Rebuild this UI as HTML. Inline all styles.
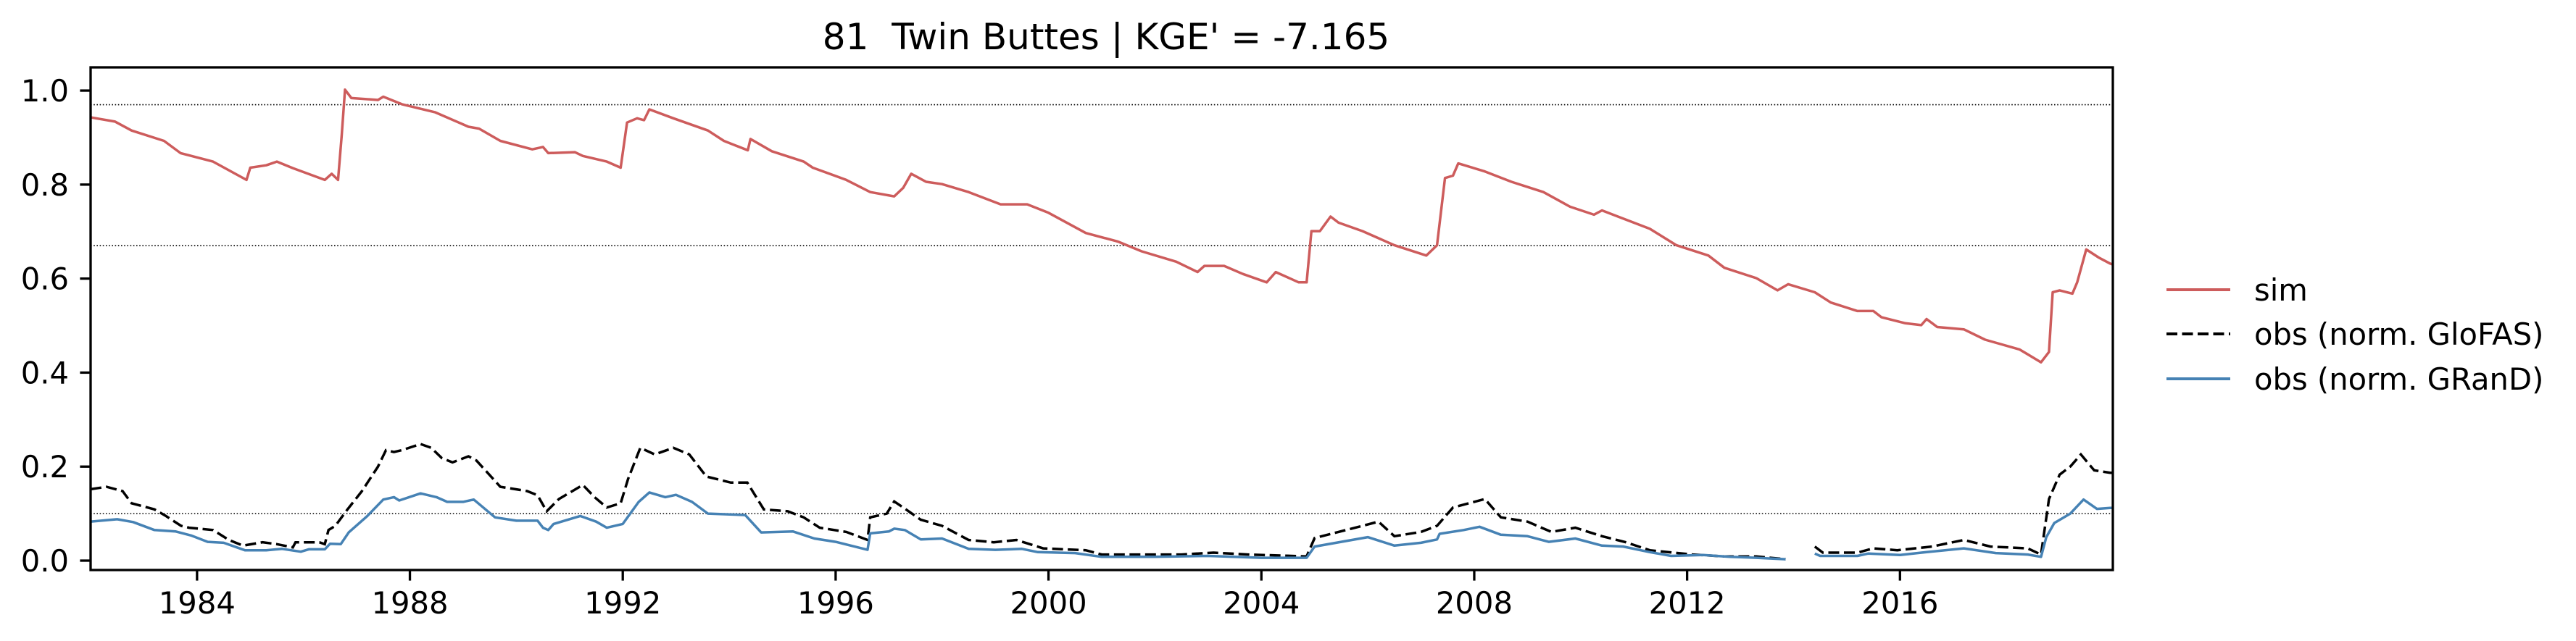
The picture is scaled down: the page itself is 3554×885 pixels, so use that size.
<!DOCTYPE html>
<html><head><meta charset="utf-8"><style>
html,body{margin:0;padding:0;background:#fff;}
svg{display:block;font-family:"DejaVu Sans","Liberation Sans",sans-serif;}
</style></head><body>
<svg id="chart" width="3554" height="885" viewBox="0 0 3554 885" xmlns="http://www.w3.org/2000/svg">
<rect width="3554" height="885" fill="#fff"/>
<text x="1526" y="68" font-size="50" text-anchor="middle">81&#160; Twin Buttes | KGE' = -7.165</text>
<g id="plot"></g>
<g id="legend">
  <line x1="2989" y1="400" x2="3077" y2="400" stroke="#cd5c5c" stroke-width="4"/>
  <text x="3110" y="415" font-size="41.7">sim</text>
  <line x1="2989" y1="461" x2="3077" y2="461" stroke="#000" stroke-width="4" stroke-dasharray="15,6.5"/>
  <text x="3110" y="476" font-size="41.7">obs (norm. GloFAS)</text>
  <line x1="2989" y1="523" x2="3077" y2="523" stroke="#4682b4" stroke-width="4"/>
  <text x="3110" y="538" font-size="41.7">obs (norm. GRanD)</text>
</g>
</svg>
<script>
const simYears=[1982.0,1982.46,1982.77,1983.38,1983.69,1984.3,1984.93,1985.0,1985.3,1985.5,1985.8,1986.4,1986.53,1986.65,1986.72,1986.78,1986.9,1987.4,1987.5,1987.85,1988.47,1989.1,1989.3,1989.7,1990.3,1990.5,1990.6,1991.1,1991.25,1991.7,1991.96,1992.08,1992.27,1992.4,1992.5,1992.95,1993.6,1993.9,1994.35,1994.4,1994.8,1995.4,1995.57,1996.2,1996.65,1997.1,1997.27,1997.42,1997.7,1998.0,1998.5,1999.1,1999.6,2000.0,2000.7,2001.3,2001.75,2002.4,2002.8,2002.93,2003.3,2003.65,2004.1,2004.27,2004.7,2004.85,2004.94,2005.1,2005.3,2005.45,2005.9,2006.5,2007.1,2007.3,2007.45,2007.6,2007.7,2008.2,2008.7,2009.3,2009.8,2010.25,2010.4,2010.7,2011.3,2011.8,2012.4,2012.7,2013.3,2013.7,2013.9,2014.4,2014.7,2015.2,2015.5,2015.65,2016.1,2016.4,2016.5,2016.7,2017.2,2017.6,2018.25,2018.65,2018.8,2018.87,2019.0,2019.24,2019.33,2019.5,2019.73,2019.95,2020.0];
const simValues=[0.943,0.934,0.915,0.893,0.867,0.849,0.810,0.836,0.841,0.849,0.835,0.810,0.823,0.810,0.906,1.002,0.984,0.980,0.987,0.971,0.954,0.923,0.919,0.893,0.875,0.880,0.867,0.869,0.861,0.849,0.836,0.932,0.941,0.937,0.960,0.941,0.915,0.893,0.873,0.897,0.871,0.849,0.836,0.810,0.784,0.775,0.793,0.823,0.806,0.801,0.784,0.758,0.758,0.740,0.697,0.679,0.658,0.636,0.614,0.627,0.627,0.610,0.592,0.614,0.592,0.592,0.701,0.701,0.732,0.719,0.701,0.671,0.649,0.671,0.814,0.819,0.845,0.828,0.806,0.784,0.753,0.736,0.745,0.732,0.706,0.671,0.649,0.623,0.601,0.575,0.588,0.571,0.549,0.531,0.531,0.518,0.505,0.501,0.514,0.497,0.492,0.470,0.449,0.422,0.444,0.571,0.575,0.568,0.592,0.662,0.645,0.632,0.630];
const glofasYears=[1982.0,1982.3,1982.6,1982.77,1983.2,1983.4,1983.7,1983.85,1984.3,1984.6,1984.86,1985.23,1985.5,1985.8,1985.85,1986.3,1986.4,1986.47,1986.6,1986.8,1987.1,1987.4,1987.55,1987.7,1987.85,1988.2,1988.4,1988.6,1988.8,1989.1,1989.25,1989.7,1990.2,1990.4,1990.57,1990.8,1991.25,1991.47,1991.7,1991.96,1992.1,1992.33,1992.6,1992.95,1993.25,1993.57,1994.03,1994.34,1994.65,1995.1,1995.4,1995.7,1996.2,1996.6,1996.65,1996.96,1997.1,1997.27,1997.6,1998.0,1998.5,1998.97,1999.4,1999.9,2000.7,2001.0,2001.6,2002.5,2003.1,2003.75,2004.85,2005.0,2005.45,2005.9,2006.2,2006.5,2007.0,2007.3,2007.6,2007.9,2008.2,2008.5,2009.0,2009.45,2009.9,2010.4,2010.85,2011.3,2012.1,2012.7,2013.3,2013.85,2014.0,2014.4,2014.55,2015.2,2015.5,2015.95,2016.6,2017.2,2017.7,2018.4,2018.65,2018.8,2019.0,2019.2,2019.4,2019.65,2019.95,2020.0];
const glofasValues=[0.152,0.157,0.148,0.122,0.109,0.096,0.074,0.070,0.065,0.044,0.032,0.039,0.035,0.028,0.039,0.039,0.035,0.065,0.074,0.105,0.148,0.200,0.235,0.231,0.235,0.248,0.240,0.218,0.209,0.222,0.213,0.157,0.148,0.139,0.105,0.131,0.161,0.135,0.113,0.122,0.174,0.240,0.226,0.240,0.226,0.179,0.166,0.166,0.109,0.105,0.092,0.070,0.061,0.044,0.092,0.100,0.126,0.113,0.087,0.074,0.044,0.039,0.044,0.026,0.022,0.013,0.013,0.013,0.017,0.013,0.009,0.048,0.061,0.074,0.083,0.052,0.061,0.074,0.113,0.122,0.131,0.092,0.083,0.061,0.070,0.052,0.039,0.022,0.013,0.009,0.009,0.003,null,0.030,0.017,0.017,0.026,0.022,0.030,0.044,0.030,0.026,0.013,0.131,0.183,0.200,0.226,0.192,0.187,0.187];
const grandYears=[1982.0,1982.5,1982.8,1983.2,1983.6,1983.9,1984.2,1984.5,1984.9,1985.3,1985.6,1985.95,1986.1,1986.4,1986.5,1986.7,1986.85,1987.2,1987.5,1987.7,1987.8,1988.2,1988.5,1988.7,1989.0,1989.2,1989.6,1990.0,1990.4,1990.5,1990.6,1990.7,1991.2,1991.5,1991.7,1992.0,1992.3,1992.5,1992.8,1993.0,1993.3,1993.6,1994.3,1994.6,1995.2,1995.6,1996.0,1996.6,1996.65,1997.0,1997.1,1997.3,1997.6,1998.0,1998.5,1999.0,1999.5,1999.8,2000.5,2001.0,2002.0,2003.0,2004.0,2004.85,2005.0,2005.5,2006.0,2006.5,2007.0,2007.3,2007.35,2007.8,2008.1,2008.5,2009.0,2009.4,2009.9,2010.4,2010.8,2011.3,2011.7,2012.3,2012.8,2013.3,2013.85,2014.0,2014.4,2014.5,2015.2,2015.4,2016.0,2016.5,2017.2,2017.8,2018.4,2018.65,2018.75,2018.9,2019.2,2019.45,2019.7,2019.95,2020.0];
const grandValues=[0.083,0.088,0.082,0.065,0.062,0.053,0.040,0.038,0.022,0.022,0.025,0.019,0.024,0.024,0.036,0.035,0.060,0.095,0.130,0.135,0.128,0.143,0.135,0.125,0.125,0.130,0.092,0.085,0.085,0.070,0.065,0.078,0.095,0.083,0.070,0.078,0.125,0.145,0.135,0.140,0.125,0.100,0.097,0.060,0.062,0.047,0.040,0.023,0.058,0.062,0.068,0.065,0.045,0.047,0.025,0.023,0.025,0.018,0.016,0.008,0.008,0.010,0.006,0.006,0.030,0.040,0.050,0.032,0.038,0.045,0.057,0.065,0.072,0.055,0.052,0.040,0.047,0.032,0.030,0.018,0.010,0.012,0.008,0.006,0.003,null,0.015,0.010,0.010,0.015,0.012,0.018,0.026,0.016,0.013,0.008,0.050,0.080,0.100,0.130,0.110,0.112,0.112];
const refLines=[0.97,0.67,0.10];
const yTicks=[0.0,0.2,0.4,0.6,0.8,1.0];
const xTicks=[1984,1988,1992,1996,2000,2004,2008,2012,2016];

const L=125,R=2915,T=93,B=787;
const xMin=1982.0,xMax=2020.0,yMin=-0.0200,yMax=1.0494;
const sx=v=>L+(v-xMin)/(xMax-xMin)*(R-L);
const sy=v=>B-(v-yMin)/(yMax-yMin)*(B-T);
const NS='http://www.w3.org/2000/svg';
const plot=document.getElementById('plot');
function mk(tag,attrs){const e=document.createElementNS(NS,tag);for(const k in attrs)e.setAttribute(k,attrs[k]);return e;}

const clip=mk('clipPath',{id:'clipP'});clip.appendChild(mk('rect',{x:L,y:T,width:R-L,height:B-T}));
plot.appendChild(clip);

refLines.forEach(v=>{
  const l=mk('line',{x1:L,x2:R,y1:sy(v),y2:sy(v),stroke:'#000','stroke-width':1.6,'stroke-dasharray':'1.6,2.6'});
  
  
  plot.appendChild(l);
});

function pathD(xs,ys){let d='',pen=false;for(let i=0;i<xs.length;i++){if(ys[i]===null){pen=false;continue;}d+=(pen?'L':'M')+sx(xs[i]).toFixed(1)+','+sy(ys[i]).toFixed(1);pen=true;}return d;}
const g=mk('g',{'clip-path':'url(#clipP)'});plot.appendChild(g);
const sim=mk('path',{d:pathD(simYears,simValues),fill:'none',stroke:'#cd5c5c','stroke-width':3.5,'stroke-linejoin':'round'});


g.appendChild(sim);
const glo=mk('path',{d:pathD(glofasYears,glofasValues),fill:'none',stroke:'#000','stroke-width':3.5,'stroke-dasharray':'15,6.5'});


g.appendChild(glo);
const gr=mk('path',{d:pathD(grandYears,grandValues),fill:'none',stroke:'#4682b4','stroke-width':3.5,'stroke-linejoin':'round'});


g.appendChild(gr);

const frame=mk('rect',{x:L,y:T,width:R-L,height:B-T,fill:'none',stroke:'#000','stroke-width':3.3});


plot.appendChild(frame);

yTicks.forEach(v=>{
  const y=sy(v);
  const t=mk('line',{x1:L-14.6,x2:L,y1:y,y2:y,stroke:'#000','stroke-width':3.3});
  
  
  plot.appendChild(t);
  const tx=mk('text',{x:L-30,y:y+15,'font-size':41.7,'text-anchor':'end'});
  tx.textContent=v.toFixed(1);
  
  
  plot.appendChild(tx);
});
xTicks.forEach(v=>{
  const x=sx(v);
  const t=mk('line',{x1:x,x2:x,y1:B,y2:B+14.6,stroke:'#000','stroke-width':3.3});
  
  
  plot.appendChild(t);
  const tx=mk('text',{x:x,y:847,'font-size':41.7,'text-anchor':'middle'});
  tx.textContent=String(v);
  
  
  plot.appendChild(tx);
});
</script>
</body></html>
